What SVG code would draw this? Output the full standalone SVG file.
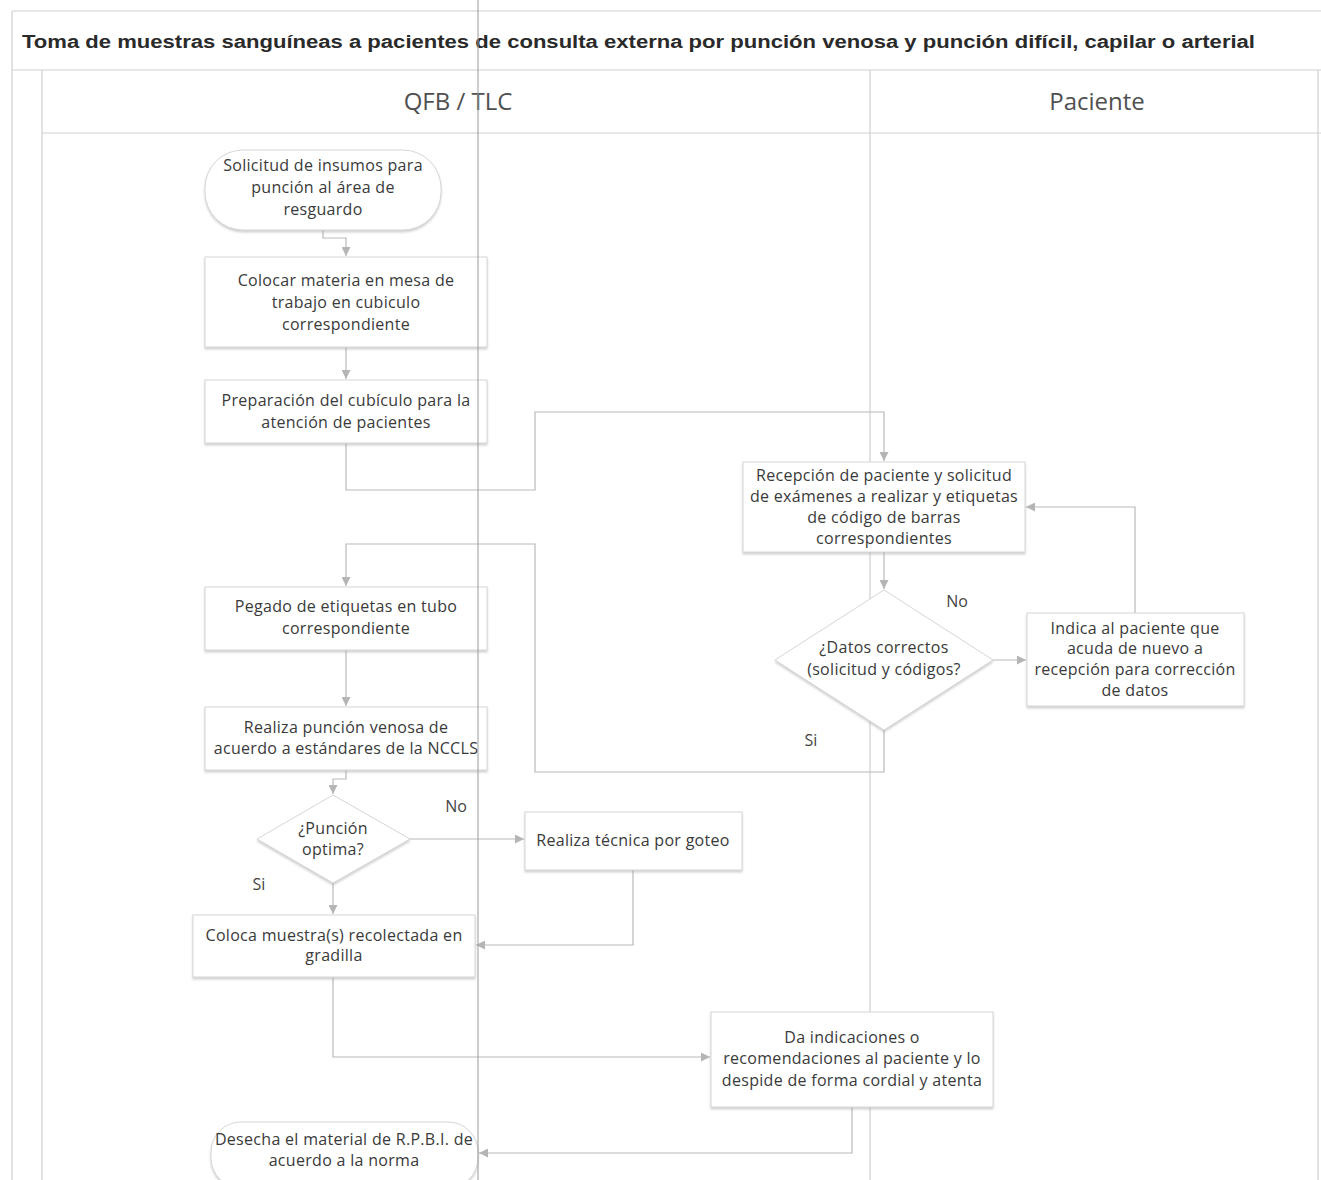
<svg xmlns="http://www.w3.org/2000/svg" width="1321" height="1180" viewBox="0 0 1321 1180">
<style>
.frame{fill:none;stroke:#cfcfcf;stroke-width:1.2}
.box{fill:#ffffff;stroke:#d6d6d6;stroke-width:1;filter:url(#sh)}
.t{font-family:"Open Sans","Noto Sans",sans-serif;font-size:16px;letter-spacing:0.3px;fill:#3a3a3a;text-anchor:middle}
.lbl{font-family:"Open Sans","Noto Sans",sans-serif;font-size:16px;fill:#444;text-anchor:middle}
.lane{font-family:"Open Sans","Noto Sans",sans-serif;font-size:24px;fill:#505050;text-anchor:middle}
.title{font-family:"Liberation Sans",Arial,sans-serif;font-size:18px;font-weight:bold;fill:#2a2a2a}
.c{fill:none;stroke:#b9b9b9;stroke-width:1.2;marker-end:url(#ah)}
</style>
<defs>
<filter id="sh" x="-5%" y="-5%" width="110%" height="120%">
<feDropShadow dx="0" dy="2" stdDeviation="1.2" flood-color="#9a9a9a" flood-opacity="0.45"/>
</filter>
<marker id="ah" viewBox="0 0 10 10" refX="10" refY="5" markerWidth="9" markerHeight="9" markerUnits="userSpaceOnUse" orient="auto">
<path d="M0,0 L10,5 L0,10 z" fill="#b5b5b5"/>
</marker>
</defs>
<rect width="1321" height="1180" fill="#ffffff"/>
<g id="frame">
<line class="frame" x1="12" y1="11" x2="1321" y2="11"/>
<line class="frame" x1="12" y1="11" x2="12" y2="1180"/>
<line class="frame" x1="12" y1="70" x2="1321" y2="70"/>
<line class="frame" x1="42" y1="70" x2="42" y2="1180"/>
<line class="frame" x1="42" y1="133" x2="1321" y2="133"/>
<line class="frame" x1="870" y1="70" x2="870" y2="1180"/>
<line class="frame" x1="1318" y1="70" x2="1318" y2="1180"/>
<text class="title" x="22" y="48" textLength="1233" lengthAdjust="spacingAndGlyphs">Toma de muestras sanguíneas a pacientes de consulta externa por punción venosa y punción difícil, capilar o arterial</text>
<text class="lane" x="458" y="110">QFB / TLC</text>
<text class="lane" x="1097" y="110">Paciente</text>
</g>
<g id="connectors">
<path class="c" d="M323,230 V238 H346 V256"/>
<path class="c" d="M346,347 V379"/>
<path class="c" d="M346,443 V490 H535 V412 H884 V461"/>
<path class="c" d="M884,552 V589"/>
<path class="c" d="M993,660 H1026"/>
<path class="c" d="M1135,613 V507 H1026"/>
<path class="c" d="M884,730 V772 H535 V544 H346 V586"/>
<path class="c" d="M346,650 V706"/>
<path class="c" d="M346,770 V779 H333 V794"/>
<path class="c" d="M410,839 H524"/>
<path class="c" d="M333,883 V914"/>
<path class="c" d="M633,870 V945 H476"/>
<path class="c" d="M333,977 V1057 H710"/>
<path class="c" d="M852,1107 V1153 H479"/>
<text class="lbl" x="957" y="607">No</text>
<text class="lbl" x="811" y="746">Si</text>
<text class="lbl" x="456" y="812">No</text>
<text class="lbl" x="259" y="890">Si</text>
</g>
<g id="n1">
<rect class="box" x="205" y="150" width="236" height="80" rx="38"/>
<text class="t" x="323" y="171">Solicitud de insumos para</text>
<text class="t" x="323" y="193">punción al área de</text>
<text class="t" x="323" y="215">resguardo</text>
</g>
<g id="n2">
<rect class="box" x="205" y="257" width="282" height="90"/>
<text class="t" x="346" y="286">Colocar materia en mesa de</text>
<text class="t" x="346" y="308">trabajo en cubiculo</text>
<text class="t" x="346" y="330">correspondiente</text>
</g>
<g id="n3">
<rect class="box" x="205" y="380" width="282" height="63"/>
<text class="t" x="346" y="406">Preparación del cubículo para la</text>
<text class="t" x="346" y="428">atención de pacientes</text>
</g>
<g id="n4">
<rect class="box" x="743" y="462" width="282" height="90"/>
<text class="t" x="884" y="481">Recepción de paciente y solicitud</text>
<text class="t" x="884" y="502">de exámenes a realizar y etiquetas</text>
<text class="t" x="884" y="523">de código de barras</text>
<text class="t" x="884" y="544">correspondientes</text>
</g>
<g id="n5">
<polygon class="box" points="884,590 993,660 884,730 775,660"/>
<text class="t" x="884" y="653">¿Datos correctos</text>
<text class="t" x="884" y="675">(solicitud y códigos?</text>
</g>
<g id="n6">
<rect class="box" x="1027" y="613" width="217" height="93"/>
<text class="t" x="1135" y="634">Indica al paciente que</text>
<text class="t" x="1135" y="654">acuda de nuevo a</text>
<text class="t" x="1135" y="675">recepción para corrección</text>
<text class="t" x="1135" y="696">de datos</text>
</g>
<g id="n7">
<rect class="box" x="205" y="587" width="282" height="63"/>
<text class="t" x="346" y="612">Pegado de etiquetas en tubo</text>
<text class="t" x="346" y="634">correspondiente</text>
</g>
<g id="n8">
<rect class="box" x="205" y="707" width="282" height="63"/>
<text class="t" x="346" y="733">Realiza punción venosa de</text>
<text class="t" x="346" y="754">acuerdo a estándares de la NCCLS</text>
</g>
<g id="n9">
<polygon class="box" points="333,795 410,839 333,883 257,839"/>
<text class="t" x="333" y="834">¿Punción</text>
<text class="t" x="333" y="855">optima?</text>
</g>
<g id="n10">
<rect class="box" x="525" y="812" width="217" height="58"/>
<text class="t" x="633" y="846">Realiza técnica por goteo</text>
</g>
<g id="n11">
<rect class="box" x="193" y="915" width="282" height="62"/>
<text class="t" x="334" y="941">Coloca muestra(s) recolectada en</text>
<text class="t" x="334" y="961">gradilla</text>
</g>
<g id="n12">
<rect class="box" x="711" y="1012" width="282" height="95"/>
<text class="t" x="852" y="1043">Da indicaciones o</text>
<text class="t" x="852" y="1064">recomendaciones al paciente y lo</text>
<text class="t" x="852" y="1086">despide de forma cordial y atenta</text>
</g>
<g id="n13">
<rect class="box" x="211" y="1122" width="267" height="66" rx="30"/>
<text class="t" x="344" y="1145">Desecha el material de R.P.B.I. de</text>
<text class="t" x="344" y="1166">acuerdo a la norma</text>
</g>
<line x1="478" y1="0" x2="478" y2="1180" stroke="#9a9a9a" stroke-width="1"/>
</svg>
